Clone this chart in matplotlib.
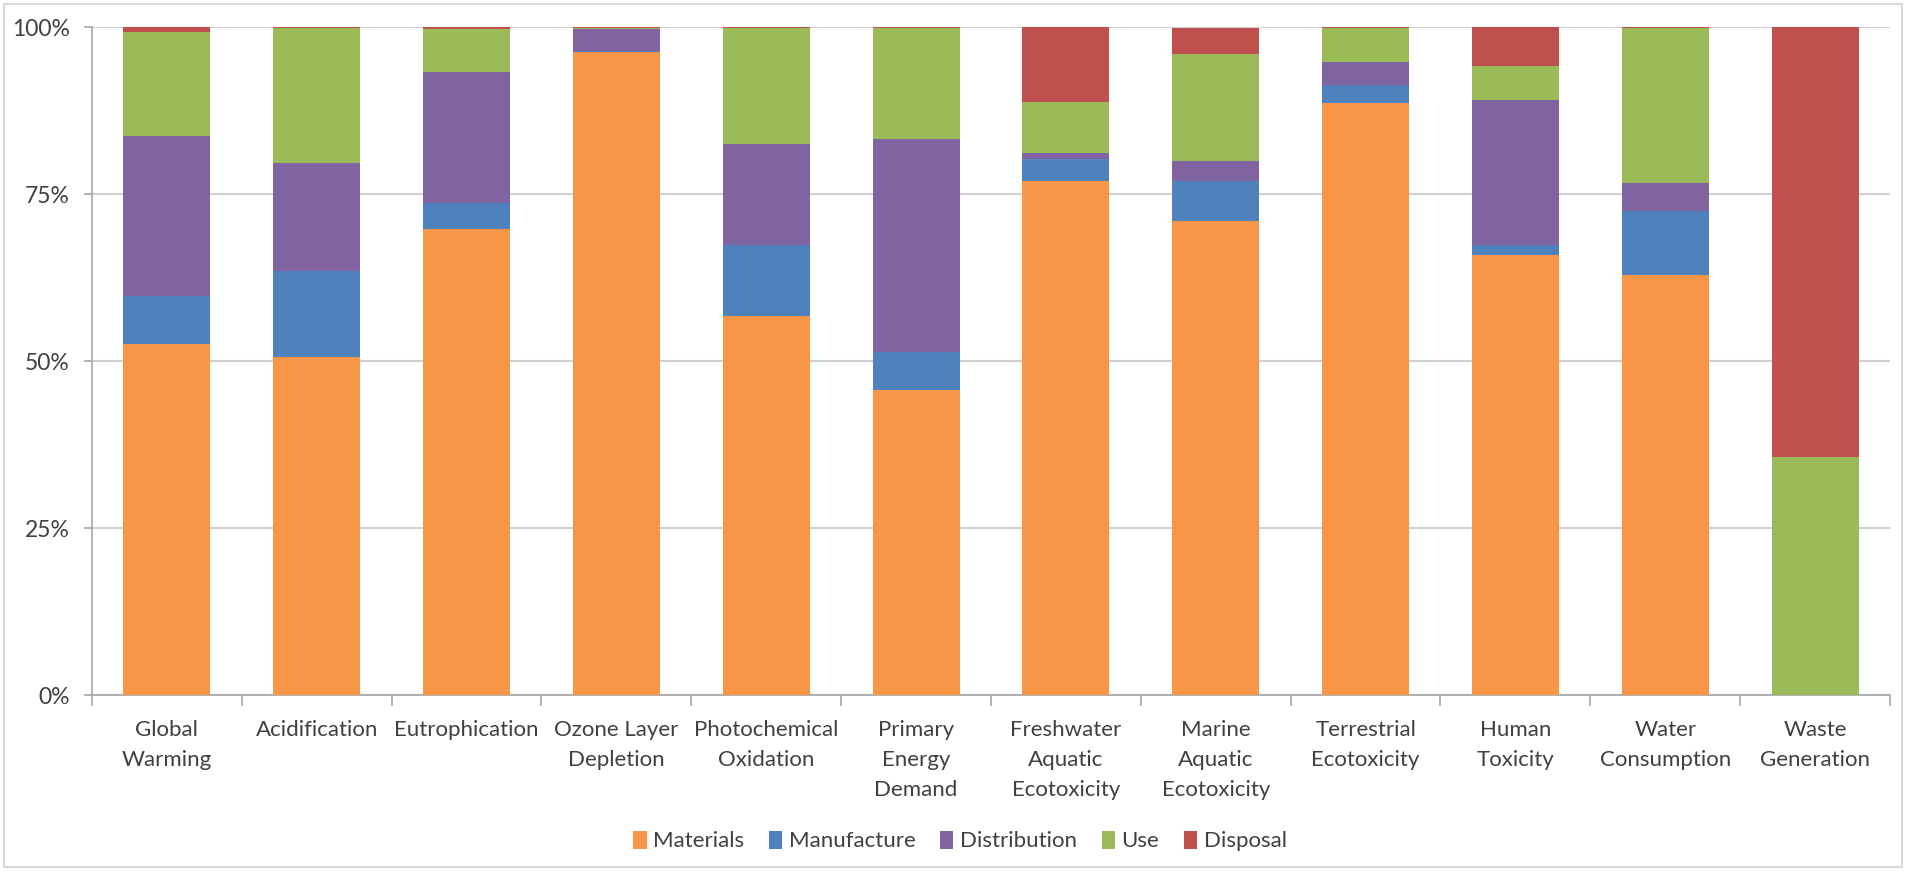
import matplotlib
matplotlib.use("Agg")
import matplotlib.pyplot as plt
import numpy as np
from matplotlib.patches import Rectangle

categories = ["Global\nWarming", "Acidification", "Eutrophication", "Ozone Layer\nDepletion",
              "Photochemical\nOxidation", "Primary\nEnergy\nDemand", "Freshwater\nAquatic\nEcotoxicity",
              "Marine\nAquatic\nEcotoxicity", "Terrestrial\nEcotoxicity", "Human\nToxicity",
              "Water\nConsumption", "Waste\nGeneration"]

materials    = [52.6, 50.6, 69.7, 96.3, 56.8, 45.6, 77.0, 70.9, 88.6, 65.8, 62.9, 0.0]
manufacture  = [7.2, 12.8, 4.0, 0.1, 10.6, 5.8, 3.3, 6.1, 2.7, 1.5, 9.6, 0.0]
distribution = [23.9, 16.3, 19.5, 3.3, 15.1, 31.9, 0.8, 2.9, 3.4, 21.8, 4.2, 0.0]
use          = [15.6, 20.1, 6.55, 0.2, 17.4, 16.6, 7.6, 16.1, 5.2, 5.1, 23.2, 35.6]
disposal     = [0.7, 0.2, 0.25, 0.1, 0.1, 0.1, 11.3, 3.9, 0.1, 5.8, 0.1, 64.4]

series_names = ["Materials", "Manufacture", "Distribution", "Use", "Disposal"]
series_colors = ["#F79646", "#4F81BD", "#8064A2", "#9BBB59", "#C0504D"]
yticks = [0, 25, 50, 75, 100]
ytick_labels = ["0%", "25%", "50%", "75%", "100%"]

plt.rcParams['font.family'] = ['Lato', 'DejaVu Sans']
text_color = "#404040"

fig = plt.figure(figsize=(19.15, 8.72), dpi=100)
ax = fig.add_axes([92/1915, 1 - 695/872, (1890-92)/1915, (695-27)/872])

data = [materials, manufacture, distribution, use, disposal]
x = np.arange(len(categories))
bottom = np.zeros(len(categories))
for vals, name, col in zip(data, series_names, series_colors):
    vals = np.array(vals, dtype=float)
    ax.bar(x, vals, width=0.58, bottom=bottom, color=col, label=name, zorder=3)
    bottom += vals

ax.set_xlim(-0.5, len(categories) - 0.5)
ax.set_ylim(0, 100)
ax.set_yticks(yticks)
ax.set_yticklabels(ytick_labels)
ax.yaxis.grid(True, color="#D0D0D0", linewidth=1.5, zorder=0)
ax.set_axisbelow(True)

ax.set_xticks(x)
ax.set_xticklabels(categories, fontsize=16, color=text_color, linespacing=1.62, va="top")
ax.set_xticks(np.arange(-0.5, len(categories)), minor=True)
ax.tick_params(axis="x", which="major", length=0, pad=18)
ax.tick_params(axis="x", which="minor", length=8, color="#A6A6A6", width=1.2)
ax.tick_params(axis="y", length=6, color="#A6A6A6", width=1.2, labelsize=16.5, labelcolor=text_color, pad=10)

for s in ["top", "right"]:
    ax.spines[s].set_visible(False)
for s in ["left", "bottom"]:
    ax.spines[s].set_color("#A6A6A6")
    ax.spines[s].set_linewidth(1.2)

leg = fig.legend(loc="center", bbox_to_anchor=(960/1915, 1 - 841/872), ncol=5, frameon=False,
                 fontsize=16, handlelength=0.6, handleheight=0.9, handletextpad=0.3, columnspacing=1.1)
for t in leg.get_texts():
    t.set_color(text_color)

fig.patches.append(Rectangle((0.002, 0.006), 0.991, 0.989, transform=fig.transFigure,
                             fill=False, edgecolor="#D9D9D9", linewidth=1.5))

fig.savefig("out.png", dpi=100, facecolor="white")
